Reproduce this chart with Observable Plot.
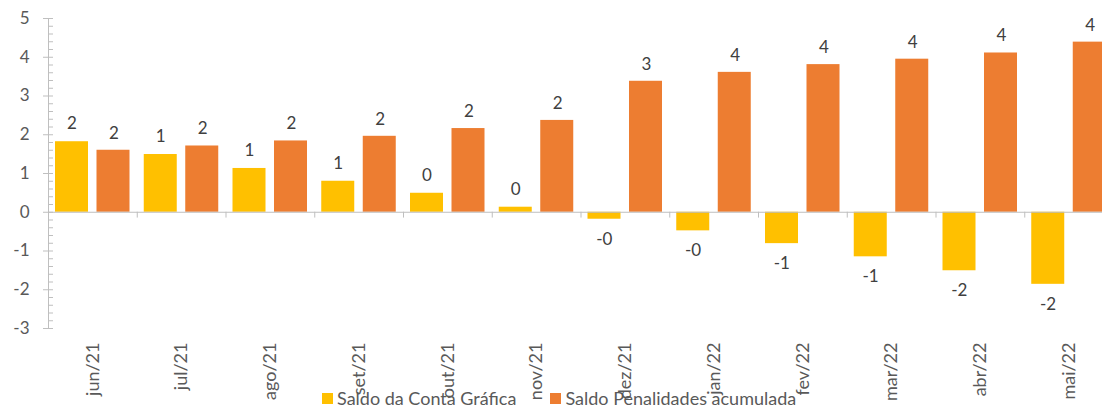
<!DOCTYPE html>
<html><head><meta charset="utf-8">
<script src="https://cdn.jsdelivr.net/npm/d3@7"></script>
<script src="https://cdn.jsdelivr.net/npm/@observablehq/plot@0.6"></script>
<style>
body{margin:0;background:#fff;font-family:Lato,"Open Sans",sans-serif}
#wrap{position:relative;width:1102px;height:409px;overflow:hidden}
#legend{position:absolute;left:322px;top:389px;height:19px;display:flex;align-items:center;font-size:18px;line-height:19px;color:#595959;white-space:nowrap;font-family:Lato,sans-serif}
#legend .sw{display:inline-block;width:11px;height:11px;margin-right:4px}
#legend .item{display:flex;align-items:center;margin-right:34px}
</style></head>
<body>
<div id="wrap"><div id="chart"></div><div id="legend"></div></div>
<script>
const months = ["jun/21","jul/21","ago/21","set/21","out/21","nov/21","dez/21","jan/22","fev/22","mar/22","abr/22","mai/22"];
const saldoConta = [1.82,1.49,1.13,0.80,0.49,0.13,-0.18,-0.48,-0.81,-1.15,-1.51,-1.86];
const saldoPenal = [1.60,1.71,1.84,1.96,2.16,2.37,3.38,3.61,3.81,3.95,4.11,4.39];
const yTicks = [-3,-2,-1,0,1,2,3,4,5];
const seriesNames = ["Saldo da Conta Gráfica","Saldo Penalidades acumulada"];
const colors = ["#FFC000","#ED7D31"];

const rows = months.map((m,i)=>({month:m, conta:saldoConta[i], penal:saldoPenal[i]}));
const minorTicks = d3.range(-3, 5.001, 0.2).filter(v => Math.abs(v - Math.round(v)) > 1e-6);
const fmt = new Intl.NumberFormat("pt-BR",{maximumFractionDigits:0});
const half = (1113-48)/12/2;
const axisColor = "#BFBFBF";
const txt = "#595959";

const plot = Plot.plot({
  width:1102, height:409,
  marginLeft:48, marginRight:-11, marginTop:18, marginBottom:81,
  style:{fontFamily:"Lato, sans-serif", color:txt, background:"#fff"},
  x:{domain:months, padding:0, round:false, label:null},
  y:{domain:[-3,5], label:null},
  marks:[
    Plot.barY(rows,{x:"month", y:"conta", fill:colors[0], insetLeft:7, insetRight:48.75}),
    Plot.barY(rows,{x:"month", y:"penal", fill:colors[1], insetLeft:48.5, insetRight:7.25}),
    Plot.ruleY([0],{stroke:axisColor, strokeWidth:1}),
    Plot.ruleX(months,{x:d=>d, dx:half, y1:0, y2:-0.15, stroke:axisColor}),
    Plot.ruleX([months[0]],{x:d=>d, dx:-half, y1:-3, y2:5, stroke:axisColor}),
    Plot.tickY(yTicks,{y:d=>d, x:()=>months[0], insetRight:2*half-10, dx:-5, stroke:axisColor}),
    Plot.tickY(minorTicks,{y:d=>d, x:()=>months[0], insetRight:2*half-5, stroke:axisColor}),
    Plot.axisY({ticks:yTicks, tickSize:0, tickPadding:19, fontSize:17, tickFormat:d=>String(d), fill:txt}),
    Plot.axisX({tickSize:0, tickRotate:-90, tickPadding:14, fontSize:18, fill:txt, label:null}),
    Plot.text(rows.filter(d=>d.conta>=0),{x:"month", y:"conta", text:d=>fmt.format(d.conta), dx:-21, dy:-18, fontSize:17, fill:"#404040"}),
    Plot.text(rows.filter(d=>d.conta<0),{x:"month", y:"conta", text:d=>fmt.format(d.conta), dx:-21, dy:20, fontSize:17, fill:"#404040"}),
    Plot.text(rows,{x:"month", y:"penal", text:d=>fmt.format(d.penal), dx:21, dy:-17, fontSize:17, fill:"#404040"})
  ]
});
document.getElementById("chart").appendChild(plot);

const lg = document.getElementById("legend");
seriesNames.forEach((n,i)=>{
  const it=document.createElement("span"); it.className="item";
  const sw=document.createElement("span"); sw.className="sw"; sw.style.background=colors[i];
  it.appendChild(sw); it.appendChild(document.createTextNode(n)); lg.appendChild(it);
});
</script>
</body></html>
